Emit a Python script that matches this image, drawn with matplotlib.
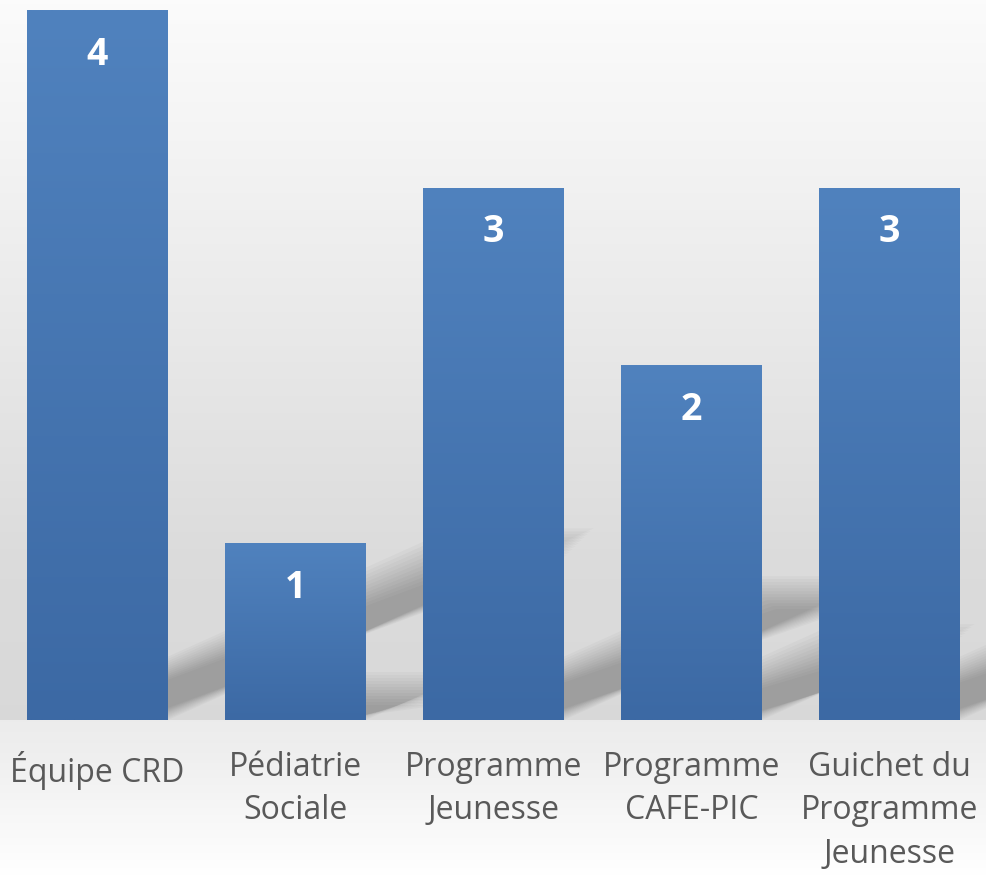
import numpy as np
import matplotlib.pyplot as plt
from matplotlib.patches import Polygon

categories = ["Équipe CRD", "Pédiatrie\nSociale", "Programme\nJeunesse",
              "Programme\nCAFE-PIC", "Guichet du\nProgramme\nJeunesse"]
values = [4, 1, 3, 2, 3]

W, H = 986, 875
fig = plt.figure(figsize=(W / 100, H / 100), dpi=100)

# background: wall gradient down to the floor line, then the floor
bg = fig.add_axes([0, 0, 1, 1], zorder=0)
bg.set_axis_off()
ys = np.arange(H)
floor = 720
wall = np.interp(ys, [0, 150, 560, floor], [0.985, 0.955, 0.86, 0.85])
flr = np.interp(ys, [floor, 760, H], [0.925, 0.94, 1.0])
col = np.where(ys < floor, wall, flr)
grad = np.repeat(col[:, None], 2, axis=1)
bg.imshow(np.dstack([grad, grad, grad]), aspect='auto', extent=[0, 1, 0, 1],
          interpolation='bilinear')
bg.set_xlim(0, 1)
bg.set_ylim(0, 1)

# main axes: 198 px per category, bars sit on y=720 px
px_x = 198.0
x0 = 97.5 / px_x
ax = fig.add_axes([0, 1 - floor / H, 1, floor / H], zorder=1)
ax.patch.set_alpha(0)
ax.set_xlim(-x0, (W - 97.5) / px_x)
top = 4 * floor / 710.0
ax.set_ylim(0, top)
px_y = floor / top

x = np.arange(len(values))
width = 141 / px_x

# soft shadows cast up and to the right
for xi, v in zip(x, values):
    hpx = v * px_y
    dx = 0.6 * hpx / px_x
    dy = 0.27 * hpx / px_y
    xl, xr = xi - width / 2, xi + width / 2
    for k in range(12):
        s = k * 3
        shrink = s / px_x
        poly = Polygon([(xl + shrink, 0), (xr - shrink, 0),
                        (xr - shrink + dx, dy - s / px_y),
                        (xl + shrink + dx, dy - s / px_y)],
                       closed=True, facecolor='black', edgecolor='none',
                       alpha=0.025, zorder=1)
        ax.add_patch(poly)

bars = ax.bar(x, values, width=width, color='#4470ad', zorder=3)

# vertical gradient on each bar
g = np.linspace(0, 1, 256)[:, None]
c_top = np.array([0x50, 0x82, 0xbe]) / 255
c_bot = np.array([0x3c, 0x69, 0xa4]) / 255
img = c_top[None, None, :] * (1 - g[..., None]) + c_bot[None, None, :] * g[..., None]
img = np.repeat(img, 2, axis=1)
for b in bars:
    bx, by = b.get_x(), b.get_y()
    bw, bh = b.get_width(), b.get_height()
    im = ax.imshow(img, extent=[bx, bx + bw, by, by + bh], aspect='auto',
                   zorder=4, interpolation='bilinear')
    im.set_clip_path(b)

ax.set_xlim(-x0, (W - 97.5) / px_x)
ax.set_ylim(0, top)

for xi, v in zip(x, values):
    ax.annotate(str(v), (xi, v), xytext=(0, -45), textcoords='offset pixels',
                ha='center', va='center', color='white', fontsize=27,
                fontweight='bold', family='Open Sans', zorder=5)

ax.set_xticks(x)
ax.set_xticklabels(categories, fontsize=23, color='#595959', family='Open Sans',
                   linespacing=1.42)
ax.tick_params(axis='x', length=0, pad=22)
ax.set_yticks([])
for sp in ax.spines.values():
    sp.set_visible(False)

fig.savefig('out.png', dpi=100)
